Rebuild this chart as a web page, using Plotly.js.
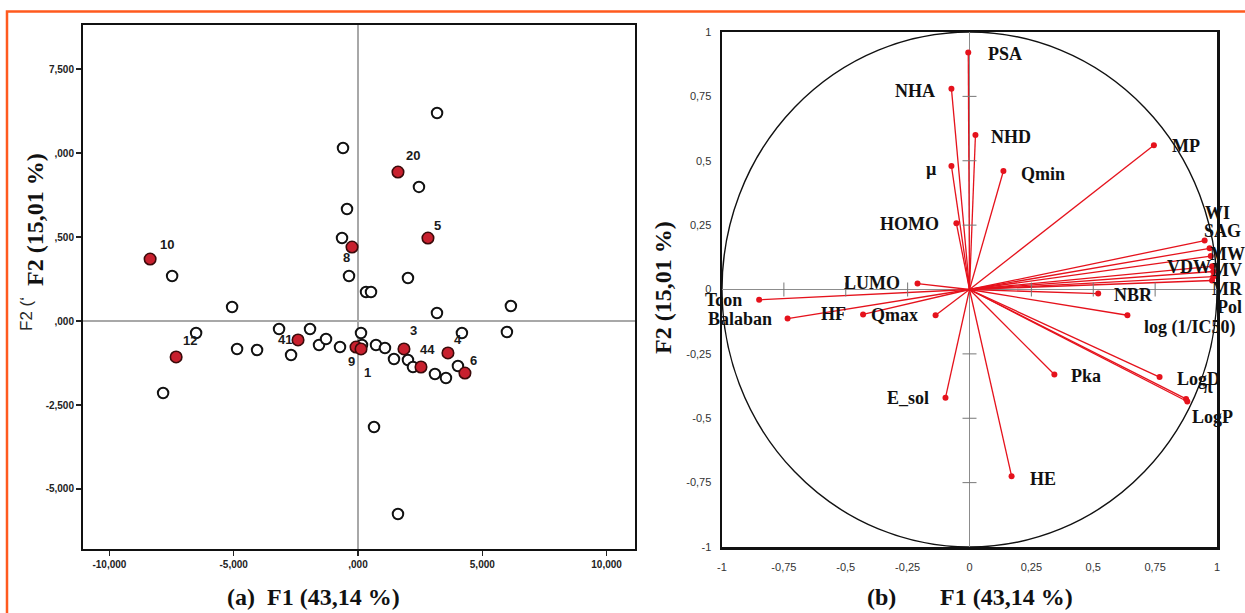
<!DOCTYPE html>
<html>
<head>
<meta charset="utf-8">
<script src="https://cdn.plot.ly/plotly-3.0.1.min.js"></script>
<style>
  html, body { margin: 0; padding: 0; background: #ffffff; }
  #chart { width: 1245px; height: 613px; }
</style>
</head>
<body>
<div id="chart"></div>
<script>
// ---------- Panel (a): PCA scores ----------
const openF1 = [3180, -603, 2452, -442, -643, -362, 322, 523, 2010, -7477, -5065, 3176, 6150, 5990, 4180, -6512, -7840, -4864, -4060, -3176, -2693, -1930, -1568, -1286, -724, 121, 161, 724, 1085, 1447, 2010, 2211, 3095, 3538, 4020, 644, 1608];
const openF2 = [6190, 5150, 3990, 3333, 2470, 1340, 863, 863, 1280, 1340, 417, 238, 446, -327, -357, -357, -2143, -833, -863, -238, -1012, -238, -714, -536, -774, -357, -714, -714, -804, -1131, -1161, -1369, -1577, -1696, -1339, -3155, -5744];

const redLabels = ['10', '12', '41', '8', '20', '5', '9', '1', '3', '44', '4', '6'];
const redF1 = [-8362, -7316, -2412, -241, 1608, 2814, -80, 121, 1849, 2533, 3618, 4301];
const redF2 = [1845, -1071, -565, 2202, 4434, 2470, -774, -833, -833, -1369, -952, -1548];

const aTickVals = [-10000, -5000, 0, 5000, 10000];
const aTickText = ['-10,000', '-5,000', ',000', '5,000', '10,000'];
const aYTickVals = [-5000, -2500, 0, 2500, 5000, 7500];
const aYTickText = ['-5,000', '-2,500', ',000', ',500', ',000', '7,500'];

// ---------- Panel (b): correlation circle ----------
const varNames = ['PSA', 'NHA', 'NHD', 'µ', 'Qmin', 'HOMO', 'MP', 'LUMO', 'Tcon', 'Balaban', 'HF', 'Qmax', 'E_sol', 'Pka', 'HE', 'LogD', 'π', 'LogP', 'NBR', 'log (1/IC50)', 'WI', 'SAG', 'MW', 'VDW', 'MV', 'MR', 'Pol'];
const varF1 = [-0.005, -0.073, 0.024, -0.073, 0.137, -0.053, 0.745, -0.21, -0.85, -0.735, -0.43, -0.137, -0.097, 0.343, 0.17, 0.768, 0.875, 0.88, 0.52, 0.638, 0.95, 0.97, 0.975, 0.98, 0.985, 0.985, 0.98];
const varF2 = [0.92, 0.78, 0.60, 0.48, 0.46, 0.257, 0.56, 0.023, -0.04, -0.113, -0.097, -0.10, -0.42, -0.33, -0.725, -0.34, -0.425, -0.435, -0.016, -0.10, 0.19, 0.16, 0.13, 0.09, 0.07, 0.05, 0.035];

const bTickVals = [-1, -0.75, -0.5, -0.25, 0, 0.25, 0.5, 0.75, 1];
const bTickText = ['-1', '-0,75', '-0,5', '-0,25', '0', '0,25', '0,5', '0,75', '1'];
const bMinorTicks = [-0.75, -0.5, -0.25, 0.25, 0.5, 0.75];

// ---------- styling (label placement offsets, px) ----------
const redLabelShift = [[17, 15], [14, 16], [-13, 0], [-6, -10], [15, 17], [10, 13], [-5, -14], [6, -24], [10, 18], [7, 18], [10, 13], [9, 13]];
const varLabelStyle = [
  ['left', 18, -1], ['right', -14, -2], ['left', 14, -2], ['right', -12, -3], ['left', 16, -3],
  ['right', -15, -1], ['left', 16, -1], ['right', -16, 1], ['right', -15, 0], ['right', -14, 0],
  ['right', -15, 0], ['right', -16, 0], ['right', -14, 0], ['left', 15, -2], ['left', 16, -3],
  ['left', 15, -2], ['left', 15, 12], ['left', 3, -15], ['left', 14, -1], ['left', 15, -12],
  ['left', -2, 28], ['left', -8, 17], ['left', -3, 2], ['right', 1, -1], ['left', -3, 1],
  ['left', -3, -12], ['left', 3, -27]
];

const W = 1245, H = 613;
const px = (a, b) => [a / W, b / W];
const py = (top, bottom) => [1 - bottom / H, 1 - top / H];

const RED = '#e5121c';
const SERIF = 'Liberation Serif, Times New Roman, serif';
const SANS = 'Liberation Sans, Arial, sans-serif';

// vector lines from origin
const vecX = [], vecY = [];
varF1.forEach((v, i) => { vecX.push(0, v, null); vecY.push(0, varF2[i], null); });

const traces = [
  {
    type: 'scatter', mode: 'markers', x: openF1, y: openF2, xaxis: 'x', yaxis: 'y',
    marker: { size: 10.5, color: '#ffffff', line: { color: '#111111', width: 2 } },
    hoverinfo: 'x+y', showlegend: false, cliponaxis: false
  },
  {
    type: 'scatter', mode: 'markers', x: redF1, y: redF2, xaxis: 'x', yaxis: 'y',
    text: redLabels,
    marker: { size: 11.5, color: '#c8202e', line: { color: '#3a0a0a', width: 1.6 } },
    hoverinfo: 'text+x+y', showlegend: false, cliponaxis: false
  },
  {
    type: 'scatter', mode: 'lines', x: vecX, y: vecY, xaxis: 'x2', yaxis: 'y2',
    line: { color: RED, width: 1.3 }, hoverinfo: 'skip', showlegend: false
  },
  {
    type: 'scatter', mode: 'markers', x: varF1, y: varF2, xaxis: 'x2', yaxis: 'y2',
    text: varNames,
    marker: { size: 6, color: RED }, hoverinfo: 'text+x+y', showlegend: false, cliponaxis: false
  },
  {
    type: 'scatter', mode: 'markers', x: bMinorTicks.map(() => 0), y: bMinorTicks, xaxis: 'x2', yaxis: 'y2',
    marker: { symbol: 'line-ew', size: 10, line: { color: '#777777', width: 1 } },
    hoverinfo: 'skip', showlegend: false
  },
  {
    type: 'scatter', mode: 'markers', x: bMinorTicks, y: bMinorTicks.map(() => 0), xaxis: 'x2', yaxis: 'y2',
    marker: { symbol: 'line-ns', size: 10, line: { color: '#777777', width: 1 } },
    hoverinfo: 'skip', showlegend: false
  }
];

const annotations = [];
redLabels.forEach((t, i) => {
  annotations.push({
    xref: 'x', yref: 'y', x: redF1[i], y: redF2[i], text: t, showarrow: false,
    xanchor: 'center', yanchor: 'middle',
    xshift: redLabelShift[i][0], yshift: redLabelShift[i][1],
    font: { family: SANS, size: 13, color: '#1a1a1a', weight: 'bold' }
  });
});
varNames.forEach((t, i) => {
  const s = varLabelStyle[i];
  annotations.push({
    xref: 'x2', yref: 'y2', x: varF1[i], y: varF2[i], text: t, showarrow: false,
    xanchor: s[0], yanchor: 'middle', xshift: s[1], yshift: s[2],
    font: { family: SERIF, size: 18, color: '#111111', weight: 'bold' }
  });
});
// titles
const titleFont = { family: SERIF, size: 24, color: '#111111', weight: 'bold' };
const ttl = (x, y, text, extra) => Object.assign({
  xref: 'paper', yref: 'paper', x: x / W, y: 1 - y / H, text: text, showarrow: false,
  xanchor: 'center', yanchor: 'middle', font: titleFont
}, extra || {});
annotations.push(
  ttl(313, 597, '(a)&nbsp;&nbsp;F1 (43,14 %)'),
  ttl(881, 597, '(b)'),
  ttl(1006, 597, 'F1 (43,14 %)'),
  ttl(35, 220, 'F2 (15,01 %)', { textangle: -90 }),
  ttl(26, 314, 'F2 (‘', { textangle: -90, font: { family: SANS, size: 17, color: '#2a2a2a' } }),
  ttl(663, 288, 'F2 (15,01 %)', { textangle: -90 })
);

const layout = {
  width: W, height: H,
  margin: { l: 0, r: 0, t: 0, b: 0, pad: 0 },
  paper_bgcolor: '#ffffff', plot_bgcolor: '#ffffff',
  showlegend: false,
  xaxis: {
    domain: px(83, 635), anchor: 'y', range: [-11062, 11142],
    tickvals: aTickVals, ticktext: aTickText, ticks: 'outside', ticklen: 5, tickwidth: 1.2, tickcolor: '#222',
    tickfont: { family: SANS, size: 10, color: '#222', weight: 'bold' },
    showline: true, linecolor: '#111', linewidth: 2, mirror: true,
    showgrid: false, zeroline: true, zerolinecolor: '#a8a8a8', zerolinewidth: 1.5, fixedrange: true
  },
  yaxis: {
    domain: py(25, 549), anchor: 'x', range: [-6786, 8810],
    tickvals: aYTickVals, ticktext: aYTickText, ticks: 'outside', ticklen: 5, tickwidth: 1.2, tickcolor: '#222',
    tickfont: { family: SANS, size: 10, color: '#222', weight: 'bold' },
    showline: true, linecolor: '#111', linewidth: 2, mirror: true,
    showgrid: false, zeroline: true, zerolinecolor: '#a8a8a8', zerolinewidth: 1.5, fixedrange: true
  },
  xaxis2: {
    domain: px(722, 1217), anchor: 'y2', range: [-1, 1],
    tickvals: bTickVals, ticktext: bTickText, ticks: '', ticklabelstandoff: 8,
    tickfont: { family: SANS, size: 11, color: '#333' },
    showline: true, linecolor: '#111', linewidth: 2.5, mirror: true,
    showgrid: false, zeroline: true, zerolinecolor: '#8c8c8c', zerolinewidth: 1, fixedrange: true
  },
  yaxis2: {
    domain: py(32, 547), anchor: 'x2', range: [-1, 1],
    tickvals: bTickVals, ticktext: bTickText, ticks: '', ticklabelstandoff: 6,
    tickfont: { family: SANS, size: 11, color: '#333' },
    showline: true, linecolor: '#111', linewidth: 2.5, mirror: true,
    showgrid: false, zeroline: true, zerolinecolor: '#8c8c8c', zerolinewidth: 1, fixedrange: true
  },
  shapes: [
    { type: 'circle', xref: 'x2', yref: 'y2', x0: -1, y0: -1, x1: 1, y1: 1,
      line: { color: '#111111', width: 1.4 }, layer: 'below' },
    { type: 'rect', xref: 'paper', yref: 'paper', x0: 7 / W, x1: 1.02, y0: -0.02, y1: 1 - 11.5 / H,
      line: { color: '#ff5a1e', width: 2.5 }, fillcolor: 'rgba(0,0,0,0)' }
  ],
  annotations: annotations
};

Plotly.newPlot('chart', traces, layout, { displayModeBar: false, staticPlot: true });
</script>
</body>
</html>
